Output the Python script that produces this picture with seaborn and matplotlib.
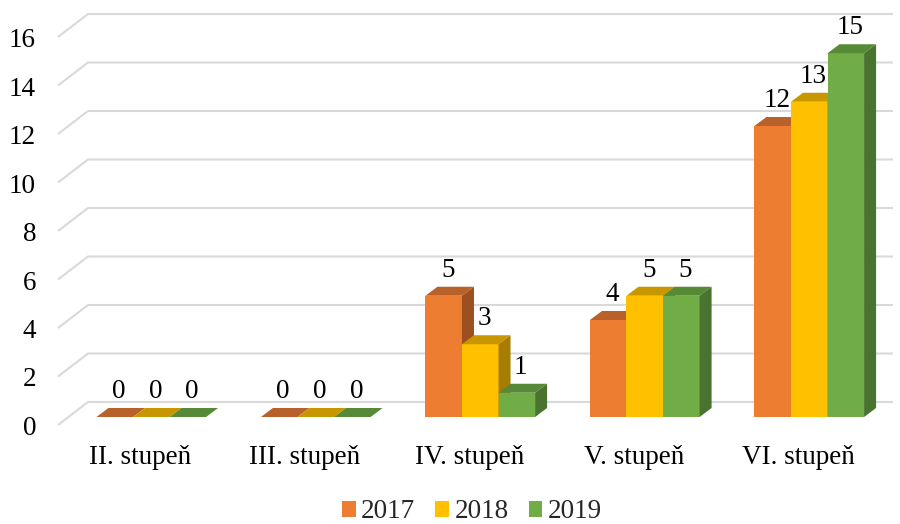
import matplotlib
matplotlib.use("Agg")
import matplotlib.pyplot as plt
from matplotlib.patches import Polygon, Patch
import seaborn as sns
import pandas as pd

categories = ["II. stupeň", "III. stupeň", "IV. stupeň", "V. stupeň", "VI. stupeň"]
years = ["2017", "2018", "2019"]
values_2017 = [0, 0, 5, 4, 12]
values_2018 = [0, 0, 3, 5, 13]
values_2019 = [0, 0, 1, 5, 15]
y_ticks = [0, 2, 4, 6, 8, 10, 12, 14, 16]

front_colors = ["#ED7D31", "#FFC000", "#70AD47"]
top_colors = ["#B9612A", "#C89700", "#578A36"]
side_colors = ["#9C4F1F", "#A67D00", "#4A7330"]

df = pd.DataFrame({
    "cat": categories * 3,
    "year": [y for y in years for _ in categories],
    "val": values_2017 + values_2018 + values_2019,
})

sns.set_theme(style="white")
plt.rcParams["font.family"] = ["Liberation Serif", "DejaVu Serif"]

W, H = 900, 524
fig = plt.figure(figsize=(W / 100, H / 100), dpi=100)
ax = fig.add_axes([0, 0, 1, 1])

# pixel mapping of the bar (front) plane
S = 164.5      # px per category
X0 = 69.0      # pixel of category boundary -0.5
PV = 24.25     # px per value unit
Y0 = 417.0     # pixel (from top) of value 0

def xd(px):
    return -0.5 + (px - X0) / S

def vd(py):
    return (Y0 - py) / PV

def DX(p):
    return p / S

def DV(p):
    return p / PV

sns.barplot(data=df, x="cat", y="val", hue="year", hue_order=years,
            order=categories, palette=front_colors, saturation=1,
            width=2 / 3, gap=0, linewidth=0, edgecolor="none",
            legend=False, ax=ax, errorbar=None)

ax.set_xlim(xd(0), xd(W))
ax.set_ylim(vd(H), vd(0))
ax.axis("off")

# 3D depth of bars
bdx, bdv = DX(12), DV(9)
for h, cont in enumerate(ax.containers):
    for p in cont.patches:
        p.set_zorder(3 + h)
        x0 = p.get_x()
        w = p.get_width()
        v = p.get_height()
        top = Polygon([(x0, v), (x0 + w, v), (x0 + w + bdx, v + bdv), (x0 + bdx, v + bdv)],
                      closed=True, facecolor=top_colors[h], edgecolor="none", zorder=3 + h + 0.1)
        ax.add_patch(top)
        if v > 0:
            side = Polygon([(x0 + w, 0), (x0 + w, v), (x0 + w + bdx, v + bdv), (x0 + w + bdx, bdv)],
                           closed=True, facecolor=side_colors[h], edgecolor="none", zorder=3 + h + 0.1)
            ax.add_patch(side)
        # data label
        ax.text(x0 + w / 2 + DX(4), v + bdv + DV(10), f"{int(round(v))}",
                ha="center", va="baseline", fontsize=19.5, color="#000000", zorder=10)

# gridlines (front corner -> back corner -> right)
fdx, fdv = DX(-11), DV(-8)
kdx, kdv = DX(19), DV(15)
left = -0.5
right_end = xd(893) - 0  # pixel 893 in back plane
for t in y_ticks:
    ax.plot([left + fdx, left + kdx, right_end], [t + fdv, t + kdv, t + kdv],
            color="#D9D9D9", lw=1.5, zorder=1, solid_capstyle="butt")
    ax.text(xd(36), t + fdv - DV(10), f"{t}", ha="right", va="baseline",
            fontsize=19.5, color="#000000")

# category labels in front plane
for i, c in enumerate(categories):
    ax.text(i + DX(-11), vd(464), c, ha="center", va="baseline",
            fontsize=19.5, color="#000000")

handles = [Patch(facecolor=front_colors[i], edgecolor="none", label=years[i]) for i in range(3)]
fig.legend(handles=handles, loc="center", bbox_to_anchor=(472 / W, 1 - 512 / H),
           ncol=3, frameon=False, fontsize=19.5, handlelength=0.5, handleheight=0.5,
           handletextpad=0.2, columnspacing=0.75, borderpad=0)

fig.savefig("out.png", dpi=100)
